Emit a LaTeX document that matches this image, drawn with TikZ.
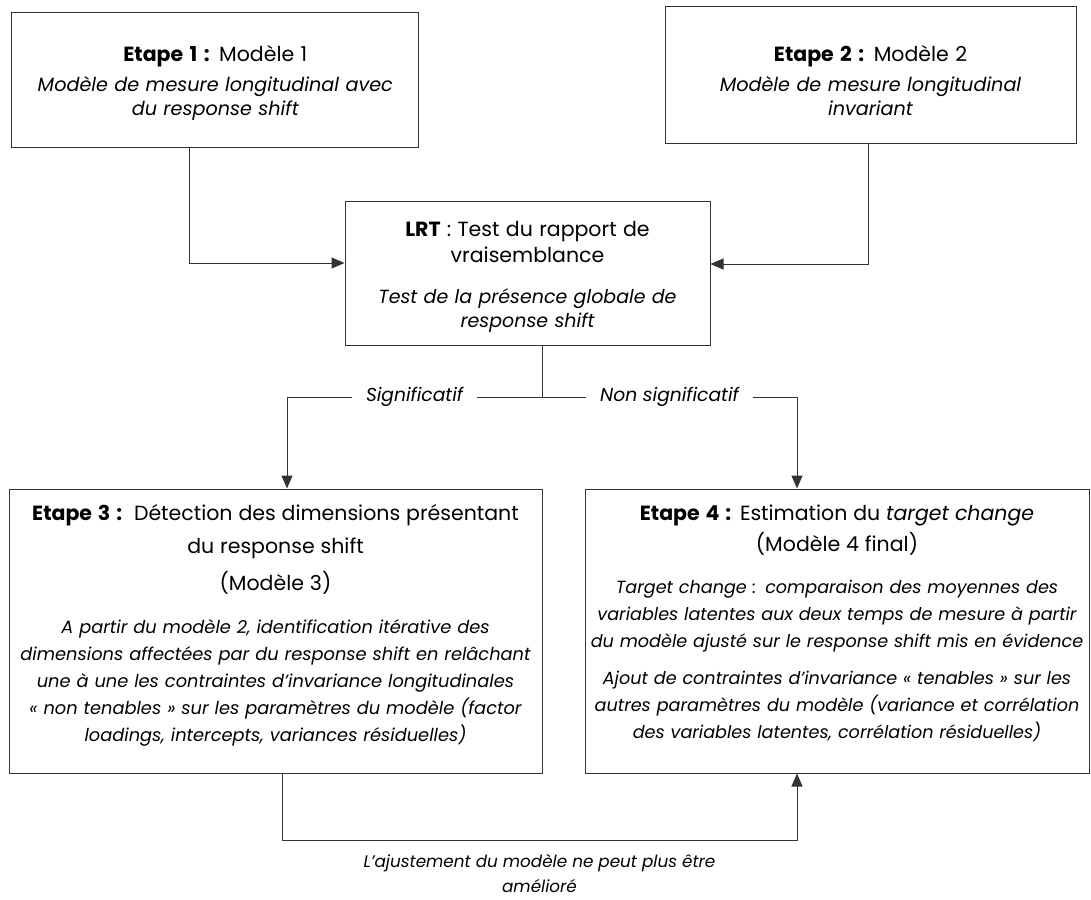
\documentclass[tikz,border=0pt]{standalone}
\usepackage{fontspec}
\setmainfont{Poppins}
\usetikzlibrary{arrows.meta, positioning}

\newcommand{\etape}[1]{\textbf{Etape #1 :}}
\newcommand{\titre}{\fontsize{20.5}{24}\selectfont}

\begin{document}
\begin{tikzpicture}[x=1pt, y=-1pt,
    stepbox/.style={draw=black!80, line width=1pt, align=center, inner sep=0pt},
    flow/.style={draw=black!80, line width=1pt, -{Triangle[length=13pt, width=11pt]}},
    branch label/.style={fill=white, inner xsep=14pt, font=\fontsize{18.7}{26}\selectfont\itshape}]
  \useasboundingbox (0,0) rectangle (1091,899);

  % etapes 1 et 2
  \node[stepbox, minimum width=407pt, minimum height=134pt, text width=400pt,
    font=\fontsize{19.2}{24}\selectfont] (etape1) at (215.3,80)
    {{\titre\rule{0pt}{21pt}\etape{1} Modèle 1}\\[6pt]
     \itshape Modèle de mesure longitudinal avec\\
     du response shift};
  \node[stepbox, minimum width=411pt, minimum height=136pt, text width=400pt,
    font=\fontsize{19.2}{24}\selectfont] (etape2) at (870.5,75)
    {{\titre\rule{0pt}{28pt}\etape{2} Modèle 2}\\[6pt]
     \itshape Modèle de mesure longitudinal\\
     invariant};

  % test du rapport de vraisemblance
  \node[stepbox, minimum width=365pt, minimum height=144pt, text width=355pt,
    font=\fontsize{19}{24}\selectfont] (lrt) at (527.5,273)
    {{\titre\rule{0pt}{22pt}\textbf{LRT} : Test du rapport de}\\[2pt]
     {\titre vraisemblance}\\[17pt]
     \itshape Test de la présence globale de\\
     response shift};

  % etapes 3 et 4
  \node[stepbox, minimum width=533pt, minimum height=284pt, text width=530pt,
    font=\fontsize{17.8}{27}\selectfont] (etape3) at (275.5,631)
    {{\titre\etape{3}\ \ Détection des dimensions présentant}\\[6pt]
     {\titre du response shift}\\[10pt]
     {\titre (Modèle 3)}\\[16pt]
     \itshape A partir du modèle 2, identification itérative des\\
     dimensions affectées par du response shift en relâchant\\
     une à une les contraintes d’invariance longitudinales\\
     « non tenables » sur les paramètres du modèle (factor\\
     loadings, intercepts, variances résiduelles)\\[-10pt]
     \mbox{}};
  \node[stepbox, minimum width=504pt, minimum height=284pt, text width=504pt,
    font=\fontsize{17.6}{27}\selectfont] (etape4) at (837,631)
    {{\titre\etape{4} Estimation du \textit{target change}}\\[4pt]
     {\titre (Modèle 4 final)}\\[15pt]
     \itshape Target change : comparaison des moyennes des\\
     variables latentes aux deux temps de mesure à partir\\
     du modèle ajusté sur le response shift mis en évidence\\[10pt]
     Ajout de contraintes d’invariance « tenables » sur les\\
     autres paramètres du modèle (variance et corrélation\\
     des variables latentes, corrélation résiduelles)\\[-8pt]
     \mbox{}};

  % liaisons
  \draw[flow] ([xshift=-26pt]etape1.south) |- ([yshift=10pt]lrt.west);
  \draw[flow] ([xshift=-2pt]etape2.south) |- ([yshift=9pt]lrt.east);

  \coordinate (fork) at (542,397);
  \draw[draw=black!80, line width=1pt] (lrt.south -| fork) -- (fork);
  \draw[flow] (fork) -| node[branch label, pos=0.25] {Significatif} ([xshift=11.5pt]etape3.north);
  \draw[flow] (fork) -| node[branch label, pos=0.25] {Non significatif} ([xshift=-40pt]etape4.north);

  \draw[flow] ([xshift=6.5pt]etape3.south) -- ++(0pt,-67pt)
    -| node[pos=0.25, below=10pt, align=center, font=\fontsize{16.8}{25}\selectfont\itshape]
       {L’ajustement du modèle ne peut plus être\\ amélioré}
    ([xshift=-40pt]etape4.south);
\end{tikzpicture}
\end{document}
